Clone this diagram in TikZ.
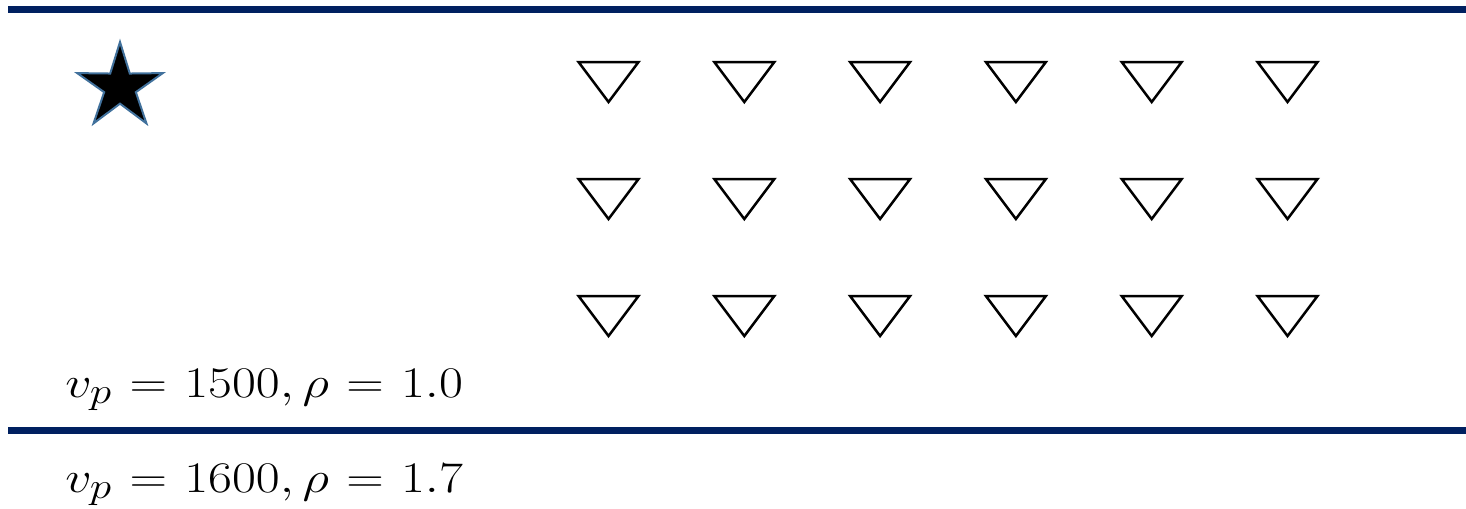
\documentclass[tikz,border=0pt]{standalone}
\usepackage{amsmath}
\usepackage{tikz}
\usetikzlibrary{shapes.geometric}
\definecolor{navy}{HTML}{002060}
\definecolor{starline}{HTML}{41719C}
\tikzset{
  layer/.style={draw=navy, line width=0.14cm},
  rcv/.style={draw=black, line width=0.05cm, line join=miter},
  src/.style={star, star points=5, star point ratio=2.7, fill=black, draw=starline, line width=0.04cm, minimum size=1.8cm, inner sep=0pt, outer sep=0pt},
  lbl/.style={font=\fontsize{29}{34}\selectfont, anchor=base west, inner sep=0pt},
}
\newcommand{\medium}[1]{\scalebox{1.19}[1]{$\thickmuskip=6mu #1$}}
\begin{document}
\begin{tikzpicture}[x=0.02cm, y=-0.02cm]
    \useasboundingbox (0,0) rectangle (1466,508);
    % layer boundaries
    \draw[layer] (8,9) -- (1466,9);
    \draw[layer] (8,430) -- (1466,430);
    % source
    \node[src] (source) at (120,87) {};
    % receivers
    \foreach \r/\y in {1/62,2/179,3/296}{
      \foreach \c in {0,...,5}{
        \draw[rcv] (608.5+\c*135.8-30,\y) -- ++(60,0) -- ++(-30,40) -- cycle;
      }
    }
    % media
    \node[lbl] (upper) at (65,397) {\medium{v_p = 1500, \rho = 1.0}};
    \node[lbl] (lower) at (65,492) {\medium{v_p = 1600, \rho = 1.7}};
  \end{tikzpicture}
\end{document}
